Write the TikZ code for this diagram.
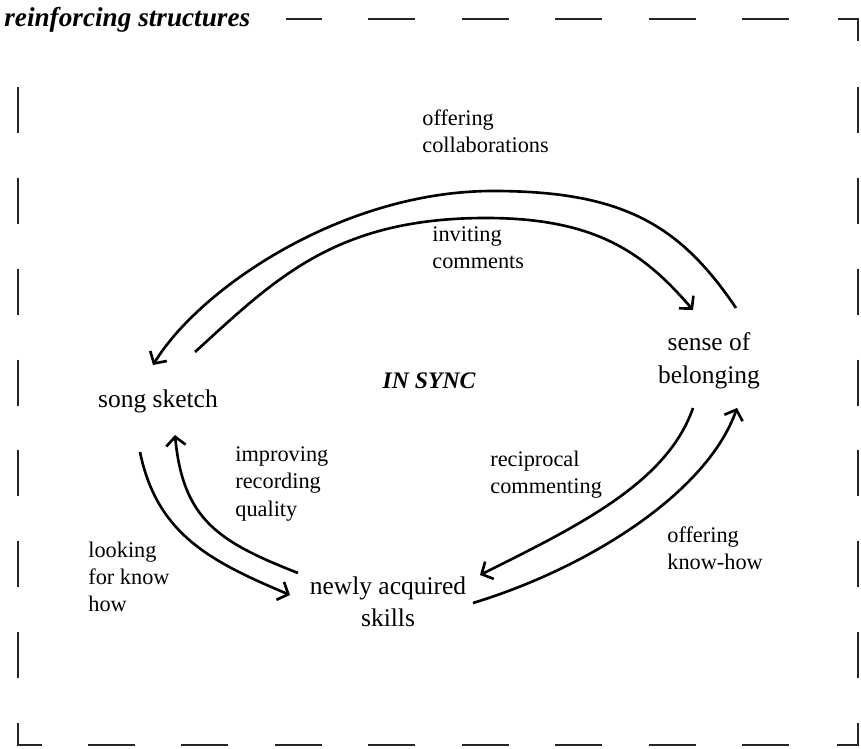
\documentclass[tikz,border=0pt]{standalone}
\usepackage{fontspec}
\setmainfont{Liberation Serif}
\usetikzlibrary{arrows.meta}

\begin{document}
\begin{tikzpicture}[x=0.02cm,y=-0.02cm]
\tikzset{concept/.style={align=center, inner sep=0pt, font=\fontsize{14.5}{18.5}\selectfont},
  flowlabel/.style={align=left, anchor=west, inner sep=0pt, font=\fontsize{12.7}{15.4}\selectfont},
  flow/.style={line width=1.5pt, -{Straight Barb[length=5pt,width=11pt,line width=1.5pt]}},
  frameline/.style={line width=1.2pt, black!85}}
\useasboundingbox (0,0) rectangle (861,749);

% dashed frame
\node[anchor=west, inner sep=0pt, font=\fontsize{15.5}{18}\selectfont\bfseries\itshape] (title) at (4,20) {reinforcing structures};
\draw[frameline] (286,19) -- (322,19);
\foreach \x in {368,462,555,649,742} \draw[frameline] (\x,19) -- ++(47,0);
\foreach \x in {88,181,275,368,462,555,649,742} \draw[frameline] (\x,745) -- ++(47,0);
\foreach \y in {87,178,269,360,450,541,632} {
  \draw[frameline] (18,\y) -- ++(0,46);
  \draw[frameline] (858,\y) -- ++(0,46);
}
\draw[frameline] (838,19) -- (858,19) -- (858,41);
\draw[frameline] (858,723) -- (858,745) -- (837,745);
\draw[frameline] (42,745) -- (18,745) -- (18,723);

% concepts
\node[concept] (song) at (158,401) {song sketch};
\node[concept, font=\fontsize{13.5}{16}\selectfont\bfseries\itshape] (sync) at (429,381) {IN SYNC};
\node[concept] (belong) at (709,361) {sense of\\belonging};
\node[concept] (skills) at (388,602) {newly acquired\\skills};

% labels
\node[flowlabel] (collab) at (422,131) {offering\\collaborations};
\node[flowlabel] (invite) at (432,248) {inviting\\comments};
\node[flowlabel] (improve) at (235,484) {improving\\recording\\quality};
\node[flowlabel] (recip) at (490,475) {reciprocal\\commenting};
\node[flowlabel] (looking) at (88,577) {looking\\for know\\how};
\node[flowlabel] (knowhow) at (667,548) {offering\\know-how};

% arc ends
\coordinate (collabA) at (736,308);
\coordinate (collabT) at (493,191);
\coordinate (collabB) at (153,365);
\coordinate (inviteA) at (195,352);
\coordinate (inviteT) at (486,218);
\coordinate (inviteB) at (693,310);
\coordinate (improveA) at (298,573);
\coordinate (improveB) at (175,435);
\coordinate (lookingA) at (140,452);
\coordinate (lookingB) at (290,595);
\coordinate (recipA) at (693,408);
\coordinate (recipB) at (480,575);
\coordinate (knowhowA) at (473,603);
\coordinate (knowhowB) at (737,408);

% arcs
\draw[flow] (collabA) .. controls +(-56,-83) and +(130,0) .. (collabT)
  .. controls +(-150,0) and +(47,-77) .. (collabB);
\draw[flow] (inviteA) .. controls +(81,-74) and +(-150,0) .. (inviteT)
  .. controls +(110,0) and +(-49,-57) .. (inviteB);
\draw[flow] (improveA) .. controls +(-79,-31) and +(8,85) .. (improveB);
\draw[flow] (lookingA) .. controls +(17,83) and +(-78,-33) .. (lookingB);
\draw[flow] (recipA) .. controls +(-26,75) and +(98,-49) .. (recipB);
\draw[flow] (knowhowA) .. controls +(115,-35) and +(-30,85) .. (knowhowB);
\end{tikzpicture}
\end{document}
